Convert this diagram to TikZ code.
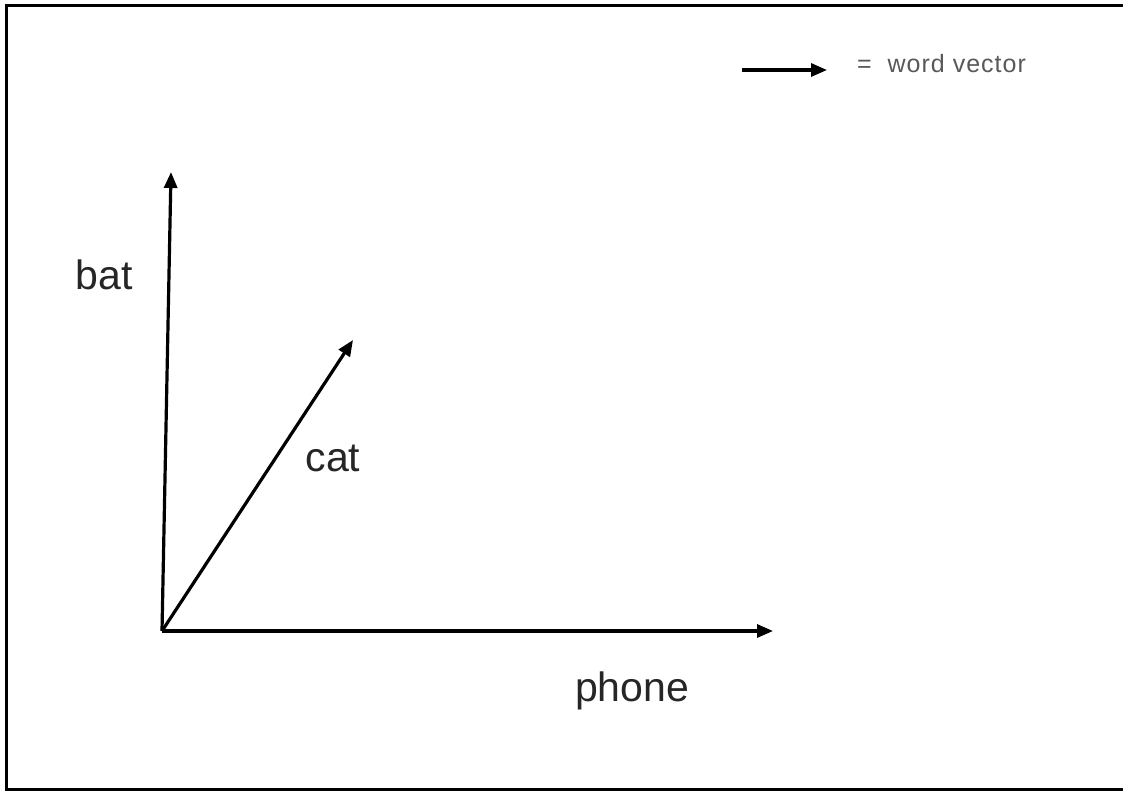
\documentclass[tikz,border=0pt]{standalone}
\usepackage{fontspec}
\setmainfont{Liberation Sans}
\usetikzlibrary{arrows.meta}
\begin{document}
\begin{tikzpicture}[x=1pt,y=-1pt,
  vec/.style={line width=3.2pt, draw=black, -{Triangle[length=16pt,width=13pt]}},
  biglabel/.style={font=\fontsize{41}{48}\selectfont, text=black!85, inner sep=0pt},
  smalllabel/.style={font=\fontsize{25}{30}\selectfont, text=black!65, inner sep=0pt}]
\useasboundingbox (0,0) rectangle (1123,791);
\fill[white] (0,0) rectangle (1123,791);
\draw[line width=3pt] (1123,5.5) -- (6,5.5) -- (6,789) -- (1123,789);
\coordinate (O) at (162,631);
\coordinate (B) at (171,172);
\coordinate (C) at (353,340);
\coordinate (P) at (773,631);
\draw[vec] (O) -- (B);
\draw[vec] (O) -- (C);
\draw[vec] (O) -- (P);
\node[biglabel] (bat) at (104,275) {bat};
\node[biglabel] (cat) at (333,458) {cat};
\node[biglabel] (phone) at (632,691) {phone};
\coordinate (L1) at (742,70);
\coordinate (L2) at (827,70);
\draw[vec] (L1) -- (L2);
\node[smalllabel, anchor=west] (leg) at (857,64) {\addfontfeature{LetterSpace=4}=\ \ word vector};
\end{tikzpicture}
\end{document}
